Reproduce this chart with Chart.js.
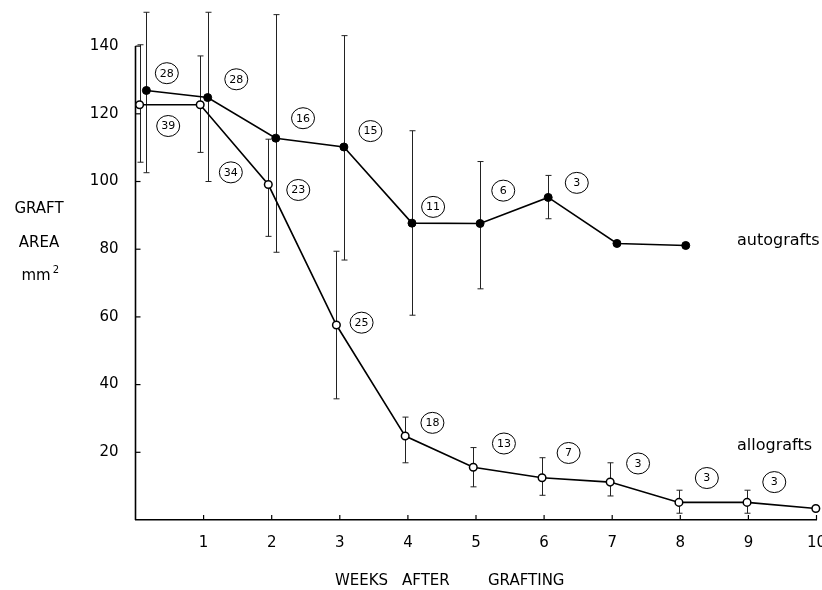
<!DOCTYPE html>
<html>
<head>
<meta charset="utf-8">
<script src="https://cdn.jsdelivr.net/npm/chart.js@4.4.0/dist/chart.umd.min.js"></script>
<style>
  html, body { margin: 0; padding: 0; background: #fff; }
  #wrap { width: 822px; height: 590px; }
</style>
</head>
<body>
<div id="wrap"><canvas id="chart" width="822" height="590"></canvas></div>
<script>
// Datos (semanas después del injerto / área en mm²)
const autoX = [0.16, 1.06, 2.06, 3.06, 4.06, 5.06, 6.06, 7.07, 8.08];
const autoY = [126.9, 124.8, 112.8, 110.2, 87.7, 87.6, 95.3, 81.7, 81.1];
const autoHigh = [150.0, 150.0, 149.3, 143.1, 115.0, 105.9, 101.8, null, null];
const autoLow = [102.6, 100.0, 79.1, 76.8, 60.5, 68.3, 89.0, null, null];

const alloX = [0.06, 0.95, 1.95, 2.95, 3.96, 4.96, 5.97, 6.97, 7.98, 8.98, 9.99];
const alloY = [122.7, 122.7, 99.1, 57.6, 24.8, 15.6, 12.5, 11.2, 5.2, 5.2, 3.4];
const alloHigh = [140.4, 137.1, 112.5, 79.4, 30.4, 21.4, 18.4, 16.9, 8.8, 8.8, null];
const alloLow = [105.7, 108.6, 83.8, 35.8, 16.9, 9.8, 7.3, 7.1, 2.0, 2.0, null];

// Números de casos (en círculos)
const autoCounts = ['28', '28', '16', '15', '11', '6', '3'];
const autoCountX = [0.46, 1.48, 2.46, 3.45, 4.37, 5.40, 6.48];
const autoCountY = [132.0, 130.2, 118.7, 114.9, 92.5, 97.3, 99.6];
const alloCounts = ['39', '34', '23', '25', '18', '13', '7', '3', '3', '3'];
const alloCountX = [0.48, 1.40, 2.39, 3.32, 4.36, 5.41, 6.36, 7.38, 8.39, 9.38];
const alloCountY = [116.4, 102.7, 97.5, 58.3, 28.7, 22.6, 19.8, 16.7, 12.4, 11.2];

const xTicks = [1, 2, 3, 4, 5, 6, 7, 8, 9, 10];
const yTicks = [20, 40, 60, 80, 100, 120, 140];

const FONT = '"DejaVu Sans", sans-serif';

const toPoints = (xs, ys) => xs.map((x, i) => ({ x: x, y: ys[i] }));

// Plugin: barras de error, ejes con marcas hacia dentro, círculos y textos
const extrasPlugin = {
    id: 'extras',
    beforeDatasetsDraw(chart) {
        const { ctx, scales: { x, y } } = chart;
        const bars = [[autoX, autoHigh, autoLow], [alloX, alloHigh, alloLow]];
        ctx.save();
        ctx.strokeStyle = '#222';
        ctx.lineWidth = 1;
        bars.forEach(([xs, hi, lo]) => {
            xs.forEach((xv, i) => {
                if (hi[i] == null) return;
                const px = Math.round(x.getPixelForValue(xv)) + 0.5;
                const pt = y.getPixelForValue(hi[i]);
                const pb = y.getPixelForValue(lo[i]);
                ctx.beginPath();
                ctx.moveTo(px, pt); ctx.lineTo(px, pb);
                ctx.moveTo(px - 3, pt); ctx.lineTo(px + 3, pt);
                ctx.moveTo(px - 3, pb); ctx.lineTo(px + 3, pb);
                ctx.stroke();
            });
        });
        // eje Y: sólo hasta la última marca
        ctx.strokeStyle = '#000';
        ctx.lineWidth = 1.6;
        ctx.beginPath();
        ctx.moveTo(x.getPixelForValue(0), y.getPixelForValue(0));
        ctx.lineTo(x.getPixelForValue(0), y.getPixelForValue(yTicks[yTicks.length - 1]));
        ctx.stroke();
        ctx.restore();
    },
    afterDraw(chart) {
        const { ctx, chartArea, scales: { x, y } } = chart;
        ctx.save();
        ctx.strokeStyle = '#000';
        ctx.lineWidth = 1.2;
        // marcas de escala hacia dentro
        xTicks.forEach(v => {
            const px = x.getPixelForValue(v);
            ctx.beginPath();
            ctx.moveTo(px, chartArea.bottom); ctx.lineTo(px, chartArea.bottom - 5);
            ctx.stroke();
        });
        yTicks.forEach(v => {
            const py = y.getPixelForValue(v);
            ctx.beginPath();
            ctx.moveTo(chartArea.left, py); ctx.lineTo(chartArea.left + 5, py);
            ctx.stroke();
        });

        // círculos con el número de injertos
        ctx.lineWidth = 1;
        ctx.fillStyle = '#000';
        ctx.font = '11px ' + FONT;
        ctx.textAlign = 'center';
        ctx.textBaseline = 'middle';
        const drawCounts = (labels, xs, ys) => {
            labels.forEach((t, i) => {
                const px = x.getPixelForValue(xs[i]);
                const py = y.getPixelForValue(ys[i]);
                ctx.beginPath();
                ctx.ellipse(px, py, 11.5, 10.5, 0, 0, Math.PI * 2);
                ctx.stroke();
                ctx.fillText(t, px, py + 0.5);
            });
        };
        drawCounts(autoCounts, autoCountX, autoCountY);
        drawCounts(alloCounts, alloCountX, alloCountY);

        // rótulos de series
        ctx.font = '16px ' + FONT;
        ctx.textAlign = 'left';
        ctx.fillText('autografts', 737, 241);
        ctx.fillText('allografts', 737, 446);

        // título del eje Y
        ctx.textAlign = 'center';
        ctx.font = '15px ' + FONT;
        ctx.fillText('GRAFT', 39, 209);
        ctx.fillText('AREA', 39, 243);
        ctx.fillText('mm', 36, 276);
        ctx.font = '10px ' + FONT;
        ctx.fillText('2', 56, 270);

        // título del eje X
        ctx.font = '15px ' + FONT;
        ctx.textAlign = 'left';
        ctx.fillText('WEEKS', 335, 581);
        ctx.fillText('AFTER', 402, 581);
        ctx.fillText('GRAFTING', 488, 581);
        ctx.restore();
    }
};

const ctx = document.getElementById('chart').getContext('2d');
new Chart(ctx, {
    type: 'line',
    data: {
        datasets: [
            {
                label: 'autografts',
                data: toPoints(autoX, autoY),
                borderColor: '#000',
                borderWidth: 1.6,
                pointRadius: 4,
                pointBackgroundColor: '#000',
                pointBorderColor: '#000',
                pointBorderWidth: 1,
                tension: 0,
                clip: 10
            },
            {
                label: 'allografts',
                data: toPoints(alloX, alloY),
                borderColor: '#000',
                borderWidth: 1.6,
                pointRadius: 3.8,
                pointBackgroundColor: '#fff',
                pointBorderColor: '#000',
                pointBorderWidth: 1.5,
                tension: 0,
                clip: 10
            }
        ]
    },
    options: {
        responsive: false,
        animation: false,
        layout: { padding: { top: 4, right: 5.5, left: 0, bottom: 0 } },
        plugins: {
            legend: { display: false },
            tooltip: { enabled: false }
        },
        scales: {
            x: {
                type: 'linear',
                min: 0,
                max: 10,
                afterBuildTicks: s => { s.ticks = xTicks.map(v => ({ value: v })); },
                afterFit: s => { s.height = 70; s.paddingLeft = 0; s.paddingRight = 0; },
                grid: { display: false },
                border: { display: true, color: '#000', width: 1.6 },
                ticks: { color: '#000', font: { family: FONT, size: 15 }, padding: 6, maxRotation: 0 }
            },
            y: {
                type: 'linear',
                min: 0,
                max: 152,
                afterBuildTicks: s => { s.ticks = yTicks.map(v => ({ value: v })); },
                afterFit: s => { s.width = 135.5; s.paddingTop = 0; s.paddingBottom = 0; },
                grid: { display: false },
                border: { display: false },
                ticks: { color: '#000', font: { family: FONT, size: 15 }, padding: 9 }
            }
        }
    },
    plugins: [extrasPlugin]
});
</script>
</body>
</html>
